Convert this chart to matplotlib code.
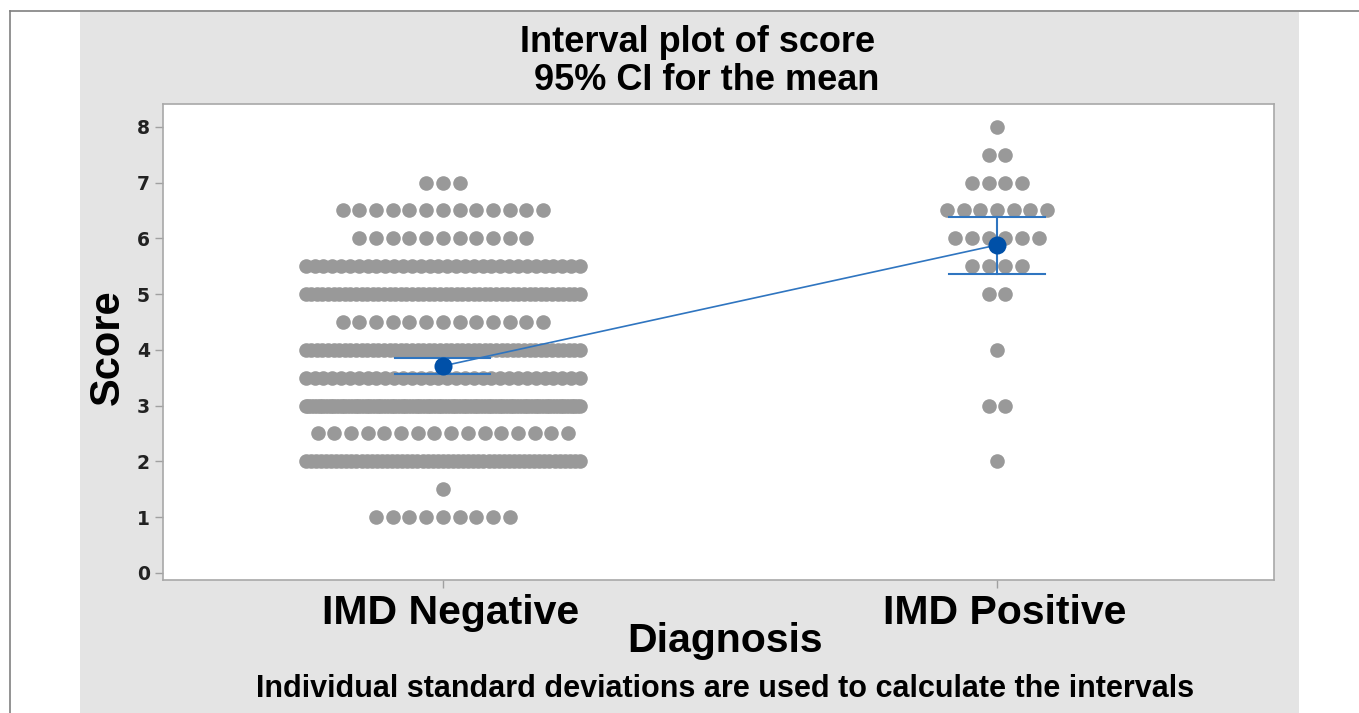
import numpy as np
import matplotlib.pyplot as plt
import matplotlib.transforms as mtransforms
from matplotlib.patches import Rectangle
from matplotlib.lines import Line2D

groups = ["IMD Negative", "IMD Positive"]

# score values and how many people got each score (one dot per person)
neg_scores = [7.0, 6.5, 6.0, 5.5, 5.0, 4.5, 4.0, 3.5, 3.0, 2.5, 2.0, 1.5, 1.0]
neg_counts = [3, 13, 11, 32, 50, 13, 50, 32, 100, 16, 55, 1, 9]

pos_scores = [8.0, 7.5, 7.0, 6.5, 6.0, 5.5, 5.0, 4.0, 3.0, 2.0]
pos_counts = [1, 2, 4, 7, 6, 4, 2, 1, 2, 1]

# mean and 95% CI
means = [3.71, 5.88]
ci_low = [3.56, 5.36]
ci_high = [3.86, 6.39]

yticks = [0, 1, 2, 3, 4, 5, 6, 7, 8]

W, H = 1359, 713
fig = plt.figure(figsize=(W / 100, H / 100), dpi=100)
fig.patch.set_facecolor("white")

# grey panel and the thin frame lines of the screenshot
fig.patches.append(Rectangle((80 / W, 0), (1299 - 80) / W, (H - 12) / H,
                             transform=fig.transFigure, facecolor="#e4e4e4",
                             edgecolor="none", zorder=-5))
fig.add_artist(Line2D([10 / W, 1], [1 - 11 / H, 1 - 11 / H], color="#808080", lw=1.2))
fig.add_artist(Line2D([10 / W, 10 / W], [0, 1 - 11 / H], color="#808080", lw=1.2))

ax = fig.add_axes([163 / W, 1 - 580 / H, (1274 - 163) / W, (580 - 104) / H])
ax.set_zorder(5)
ax.set_facecolor("white")

pitch = 0.0301      # spacing of dots side by side (data units)
max_span = 0.495    # widest a row is allowed to get

for gi, (scores, counts) in enumerate([(neg_scores, neg_counts), (pos_scores, pos_counts)]):
    xc = gi + 1
    for s, n in zip(scores, counts):
        if n > 1:
            step = min(pitch, max_span / (n - 1))
        else:
            step = 0
        xs = xc + (np.arange(n) - (n - 1) / 2) * step
        ax.plot(xs, [s] * n, "o", color="#999999", markersize=10.5,
                markeredgewidth=0, zorder=2)

xpos = [1, 2]
cap = 0.086
ax.plot(xpos, means, color="#2f75c0", lw=1.2, zorder=3)
for i in range(2):
    ax.plot([xpos[i], xpos[i]], [ci_low[i], ci_high[i]], color="#2f75c0", lw=1.5, zorder=3)
    ax.plot([xpos[i] - cap, xpos[i] + cap], [ci_low[i]] * 2, color="#2f75c0", lw=1.5, zorder=3)
    ax.plot([xpos[i] - cap, xpos[i] + cap], [ci_high[i]] * 2, color="#2f75c0", lw=1.5, zorder=3)
ax.plot(xpos, means, "o", color="#0050a8", markersize=13, markeredgewidth=0, zorder=4)

ax.set_xlim(0.495, 2.5)
ax.set_ylim(-0.13, 8.41)
ax.set_yticks(yticks)
ax.set_yticklabels([str(v) for v in yticks], fontsize=13.5, fontweight="bold", color="#222222")
ax.set_xticks(xpos)
ax.set_xticklabels(groups, fontsize=29.5, fontweight="bold", family="Liberation Sans")
ax.tick_params(axis="both", color="#a0a0a0", length=6, width=1)
ax.tick_params(axis="x", pad=4)
# category labels sit a little right of their ticks in the original
shift = mtransforms.ScaledTranslation(8 / 100, 0, fig.dpi_scale_trans)
for lab in ax.get_xticklabels():
    lab.set_transform(lab.get_transform() + shift)
for sp in ax.spines.values():
    sp.set_color("#a8a8a8")
    sp.set_linewidth(1.2)

fig.text(698 / W, 1 - 42 / H, "Interval plot of score", ha="center", va="center",
         fontsize=26, fontweight="bold", family="Liberation Sans")
fig.text(702 / W, 1 - 81 / H, " 95% CI for the mean", ha="center", va="center",
         fontsize=26, fontweight="bold", family="Liberation Sans")
fig.text(108 / W, 1 - 347 / H, "Score", rotation=90, ha="center", va="center",
         fontsize=30, fontweight="bold", family="Liberation Sans")
fig.text(725 / W, 1 - 641 / H, "Diagnosis", ha="center", va="center",
         fontsize=29.5, fontweight="bold", family="Liberation Sans")
fig.text(725 / W, 1 - 689 / H, "Individual standard deviations are used to calculate the intervals",
         ha="center", va="center", fontsize=22, fontweight="bold", family="Liberation Sans")

fig.savefig("out.png", dpi=100)
